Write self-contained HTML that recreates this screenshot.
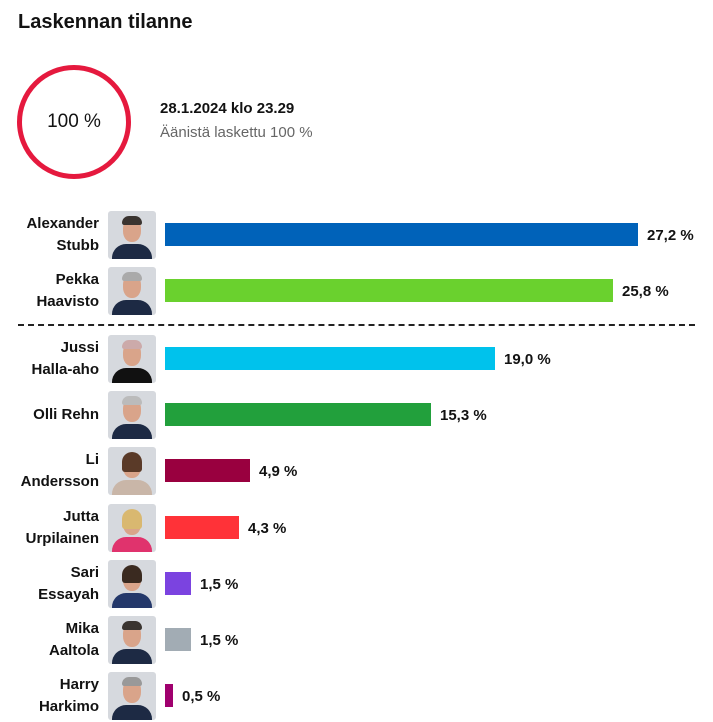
<!DOCTYPE html>
<html><head><meta charset="utf-8"><style>
body{margin:0;background:#fff;width:713px;height:722px;position:relative;overflow:hidden;font-family:"Liberation Sans",sans-serif;color:#121212}
.t{position:absolute;left:18px;top:11px;font-size:20px;font-weight:bold}
.circ{position:absolute;left:17px;top:65px;width:104px;height:104px;border:5px solid #e5193e;border-radius:50%;display:flex;align-items:center;justify-content:center;font-size:19px}
.d1{position:absolute;left:160px;top:100px;font-size:15px;font-weight:bold}
.d2{position:absolute;left:160px;top:124px;font-size:15px;color:#666}
.row{position:absolute;left:0;width:713px;height:48px}
.nm{position:absolute;right:614px;top:2px;text-align:right;font-weight:bold;font-size:15px;line-height:22px;width:100px}
.nm.one{top:13px}
.ph{position:absolute;left:108px;top:0;width:48px;height:48px;background:#d6d9de;border-radius:3px;overflow:hidden}
.ph .f{position:absolute;left:15px;top:7px;width:18px;height:24px;border-radius:45%;background:#d9a48a}
.ph .h{position:absolute;left:14px;top:5px;width:20px;height:9px;border-radius:10px 10px 3px 3px;background:#3a3430}
.ph .s{position:absolute;left:4px;top:33px;width:40px;height:20px;border-radius:14px 14px 0 0;background:#1d2a44}
.bar{position:absolute;left:165px;top:12px;height:23px}
.v{position:absolute;top:16px;font-size:15px;font-weight:bold}
.dash{position:absolute;left:18px;top:324px;width:677px;border-top:2px dashed #222}
</style></head><body>
<div class="t">Laskennan tilanne</div>
<div class="circ">100 %</div>
<div class="d1">28.1.2024 klo 23.29</div>
<div class="d2">Äänistä laskettu 100 %</div>

<div class="row" style="top:211px"><div class="nm">Alexander<br>Stubb</div><div class="ph"><div class="f"></div><div class="h"></div><div class="s"></div></div><div class="bar" style="width:473px;background:#0062b9"></div><div class="v" style="left:647px">27,2 %</div></div>
<div class="row" style="top:267px"><div class="nm">Pekka<br>Haavisto</div><div class="ph"><div class="f"></div><div class="h" style="background:#aaa"></div><div class="s"></div></div><div class="bar" style="width:448px;background:#6ad12e"></div><div class="v" style="left:622px">25,8 %</div></div>
<div class="dash"></div>
<div class="row" style="top:335px"><div class="nm">Jussi<br>Halla-aho</div><div class="ph"><div class="f"></div><div class="h" style="background:#caa"></div><div class="s" style="background:#111"></div></div><div class="bar" style="width:330px;background:#00c2ec"></div><div class="v" style="left:504px">19,0 %</div></div>
<div class="row" style="top:391px"><div class="nm one">Olli Rehn</div><div class="ph"><div class="f"></div><div class="h" style="background:#bbb"></div><div class="s"></div></div><div class="bar" style="width:266px;background:#22a03c"></div><div class="v" style="left:440px">15,3 %</div></div>
<div class="row" style="top:447px"><div class="nm">Li<br>Andersson</div><div class="ph"><div class="f"></div><div class="h" style="background:#5a3a28;height:20px"></div><div class="s" style="background:#c9b6a8"></div></div><div class="bar" style="width:85px;background:#99003f"></div><div class="v" style="left:259px">4,9 %</div></div>
<div class="row" style="top:504px"><div class="nm">Jutta<br>Urpilainen</div><div class="ph"><div class="f"></div><div class="h" style="background:#d9b870;height:20px"></div><div class="s" style="background:#e0336d"></div></div><div class="bar" style="width:74px;background:#ff3238"></div><div class="v" style="left:248px">4,3 %</div></div>
<div class="row" style="top:560px"><div class="nm">Sari<br>Essayah</div><div class="ph"><div class="f"></div><div class="h" style="background:#3a2a20;height:18px"></div><div class="s" style="background:#24386a"></div></div><div class="bar" style="width:26px;background:#7b43e0"></div><div class="v" style="left:200px">1,5 %</div></div>
<div class="row" style="top:616px"><div class="nm">Mika<br>Aaltola</div><div class="ph"><div class="f"></div><div class="h"></div><div class="s"></div></div><div class="bar" style="width:26px;background:#a2acb4"></div><div class="v" style="left:200px">1,5 %</div></div>
<div class="row" style="top:672px"><div class="nm">Harry<br>Harkimo</div><div class="ph"><div class="f"></div><div class="h" style="background:#999"></div><div class="s"></div></div><div class="bar" style="width:8px;background:#a0006e"></div><div class="v" style="left:182px">0,5 %</div></div>
</body></html>
